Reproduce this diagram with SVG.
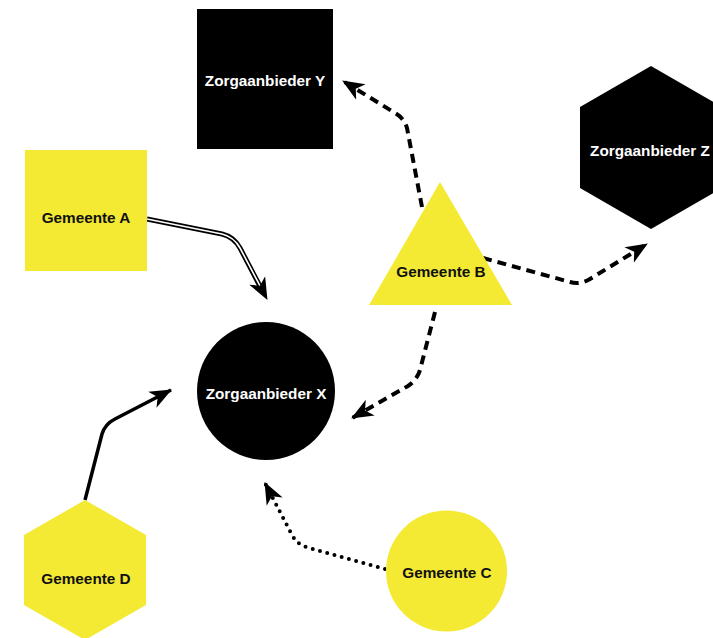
<svg xmlns="http://www.w3.org/2000/svg" width="713" height="638" viewBox="0 0 713 638">
  <style>
    .label { font-family: "Liberation Sans", Arial, sans-serif; font-weight: bold; font-size: 15.3px; text-anchor: middle; dominant-baseline: central; }
    .dark { fill: #000000; }
    .light { fill: #F4EA34; }
    .dark-text { fill: #ffffff; }
    .light-text { fill: #111111; }
    .edge { fill: none; stroke: #000000; stroke-linejoin: round; }
    .dashed { stroke-width: 4; stroke-dasharray: 9 6; }
    .dotted { stroke-width: 4; stroke-linecap: round; stroke-dasharray: 0 7.5; }
    .solid { stroke-width: 3.5; }
  </style>
  <defs>
    <marker id="arrow" markerUnits="userSpaceOnUse" markerWidth="24" markerHeight="20" viewBox="0 0 24 20" refX="21" refY="10" orient="auto">
      <path d="M0,1 L22,10 L0,19 L6,10 Z" fill="#000000"/>
    </marker>
  </defs>

  <rect width="713" height="638" fill="#ffffff"/>

  <g id="connectors">
    <!-- Gemeente A to Zorgaanbieder X: double line -->
    <path class="edge" stroke-width="5" d="M147,219 L222,234 Q234,237 240,248 L263,292"/>
    <path class="edge" style="stroke:#ffffff" stroke-width="1.6" d="M147,219 L222,234 Q234,237 240,248 L267,299" marker-end="url(#arrow)"/>
    <!-- Gemeente B to Zorgaanbieder Y -->
    <path class="edge dashed" d="M422,207 L407,128 Q404,118 395,113 L343,81" marker-end="url(#arrow)"/>
    <!-- Gemeente B to Zorgaanbieder Z -->
    <path class="edge dashed" d="M483,258 L570,282 Q580,285 590,279 L647,244" marker-end="url(#arrow)"/>
    <!-- Gemeente B to Zorgaanbieder X -->
    <path class="edge dashed" d="M435,312 L420,370 Q417,380 408,386 L352,418" marker-end="url(#arrow)"/>
    <!-- Gemeente D to Zorgaanbieder X -->
    <path class="edge solid" d="M85,500 L102,434 Q105,424 115,419 L171,390" marker-end="url(#arrow)"/>
    <!-- Gemeente C to Zorgaanbieder X -->
    <path class="edge dotted" d="M385,569 L306,547 Q297,544 292,535 L265,483" marker-end="url(#arrow)"/>
  </g>

  <g id="zorgaanbieder-y">
    <rect class="dark" x="197" y="9" width="136" height="140"/>
    <text class="label dark-text" x="265" y="80">Zorgaanbieder Y</text>
  </g>

  <g id="zorgaanbieder-z">
    <polygon class="dark" points="651,66 722,107 722,188 651,229 580,188 580,107"/>
    <text class="label dark-text" x="650" y="150">Zorgaanbieder Z</text>
  </g>

  <g id="gemeente-a">
    <rect class="light" x="25" y="150" width="122" height="121"/>
    <text class="label light-text" x="86" y="217">Gemeente A</text>
  </g>

  <g id="gemeente-b">
    <polygon class="light" points="440,182 512,305 369,305"/>
    <text class="label light-text" x="441" y="271">Gemeente B</text>
  </g>

  <g id="zorgaanbieder-x">
    <circle class="dark" cx="266" cy="391" r="69"/>
    <text class="label dark-text" x="266" y="393">Zorgaanbieder X</text>
  </g>

  <g id="gemeente-d">
    <polygon class="light" points="85,500 146,535 146,605 85,640 24,605 24,535"/>
    <text class="label light-text" x="86" y="578">Gemeente D</text>
  </g>

  <g id="gemeente-c">
    <circle class="light" cx="446.5" cy="571" r="60.5"/>
    <text class="label light-text" x="447" y="572">Gemeente C</text>
  </g>
</svg>
